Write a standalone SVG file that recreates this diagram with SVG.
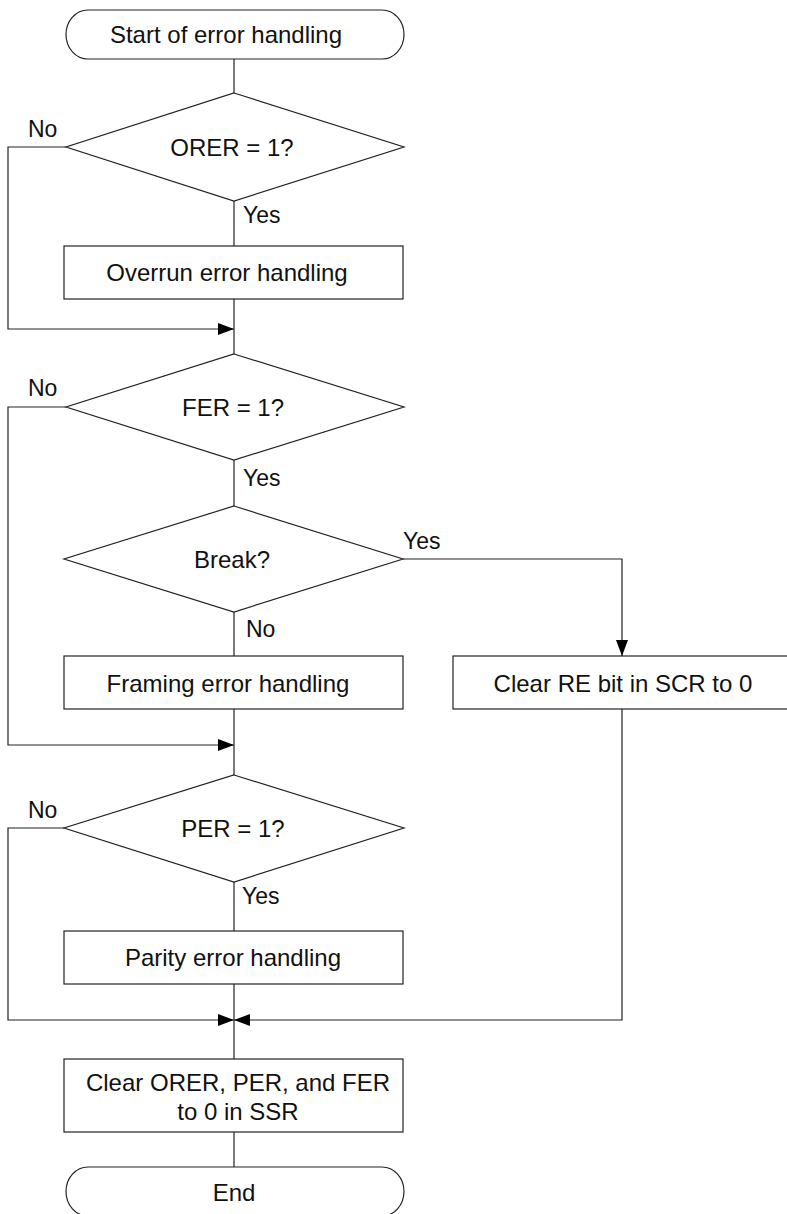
<svg xmlns="http://www.w3.org/2000/svg" width="787" height="1214" viewBox="0 0 787 1214">
<defs>
<style>
.s{fill:#fff;stroke:#222;stroke-width:1.2}
.c{fill:none;stroke:#222;stroke-width:1.2}
.t{font-family:"Liberation Sans",Arial,sans-serif;font-size:24px;fill:#111;text-anchor:middle}
.l{font-family:"Liberation Sans",Arial,sans-serif;font-size:23px;fill:#111}
</style>
<marker id="ah" viewBox="0 0 16 12" refX="16" refY="6" markerWidth="16" markerHeight="12" markerUnits="userSpaceOnUse" orient="auto">
<path d="M0,0 L16,6 L0,12 Z" fill="#000"/>
</marker>
</defs>
<rect width="787" height="1214" fill="#fff"/>
<g id="connectors">
<line class="c" x1="234" y1="59" x2="234" y2="93"/>
<line class="c" x1="234" y1="201" x2="234" y2="246"/>
<polyline class="c" points="66,147 8,147 8,329 234,329" marker-end="url(#ah)"/>
<line class="c" x1="234" y1="299" x2="234" y2="354"/>
<line class="c" x1="234" y1="460" x2="234" y2="506"/>
<polyline class="c" points="403,559 622,559 622,656" marker-end="url(#ah)"/>
<line class="c" x1="234" y1="612" x2="234" y2="656"/>
<polyline class="c" points="66,407 8,407 8,745 234,745" marker-end="url(#ah)"/>
<line class="c" x1="234" y1="709" x2="234" y2="775"/>
<line class="c" x1="234" y1="882" x2="234" y2="931"/>
<polyline class="c" points="64,828 8,828 8,1020 234,1020" marker-end="url(#ah)"/>
<polyline class="c" points="622,709 622,1020 234,1020" marker-end="url(#ah)"/>
<line class="c" x1="234" y1="984" x2="234" y2="1059"/>
<line class="c" x1="234" y1="1132" x2="234" y2="1167"/>
<text class="l" x="28" y="137">No</text>
<text class="l" x="243" y="223">Yes</text>
<text class="l" x="28" y="396">No</text>
<text class="l" x="243" y="486">Yes</text>
<text class="l" x="403" y="549">Yes</text>
<text class="l" x="246" y="637">No</text>
<text class="l" x="28" y="818">No</text>
<text class="l" x="242" y="904">Yes</text>
</g>
<g id="start">
<rect class="s" x="66" y="10" width="338" height="49" rx="22" ry="24.5"/>
<text class="t" x="226" y="43">Start of error handling</text>
</g>
<g id="orer">
<polygon class="s" points="234,93 404,147 234,201 66,147"/>
<text class="t" x="232" y="156">ORER = 1?</text>
</g>
<g id="overrun">
<rect class="s" x="64" y="246" width="339" height="53"/>
<text class="t" x="227" y="281">Overrun error handling</text>
</g>
<g id="fer">
<polygon class="s" points="234,354 404,407 234,460 66,407"/>
<text class="t" x="233" y="416">FER = 1?</text>
</g>
<g id="break">
<polygon class="s" points="234,506 403,559 234,612 64,559"/>
<text class="t" x="232" y="568">Break?</text>
</g>
<g id="framing">
<rect class="s" x="64" y="656" width="339" height="53"/>
<text class="t" x="228" y="692">Framing error handling</text>
</g>
<g id="clearre">
<rect class="s" x="453" y="656" width="338" height="53"/>
<text class="t" x="623" y="692">Clear RE bit in SCR to 0</text>
</g>
<g id="per">
<polygon class="s" points="234,775 404,828 234,882 64,828"/>
<text class="t" x="233" y="837">PER = 1?</text>
</g>
<g id="parity">
<rect class="s" x="64" y="931" width="339" height="53"/>
<text class="t" x="233" y="966">Parity error handling</text>
</g>
<g id="clearflags">
<rect class="s" x="64" y="1059" width="339" height="73"/>
<text class="t" x="238" y="1091">Clear ORER, PER, and FER</text>
<text class="t" x="238" y="1120">to 0 in SSR</text>
</g>
<g id="end">
<rect class="s" x="66" y="1167" width="338" height="49" rx="22" ry="24.5"/>
<text class="t" x="234" y="1201">End</text>
</g>
</svg>
